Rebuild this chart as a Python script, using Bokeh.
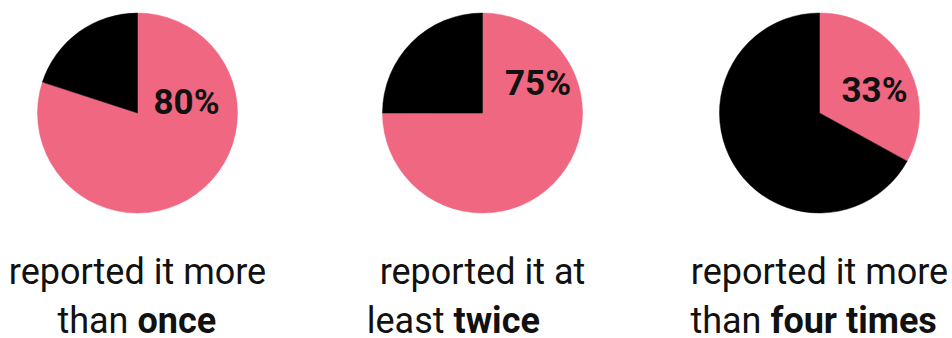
import math
from bokeh.plotting import figure
from bokeh.models import Range1d, ColumnDataSource, Label
from bokeh.embed import file_html
from bokeh.resources import INLINE

# ---- data ----
shares = [80, 75, 33]
share_labels = ["80%", "75%", "33%"]
line1 = ["reported it more", "reported it at", "reported it more"]
line2_plain = ["than", "least", "than"]
line2_bold = ["once", "twice", "four times"]

# ---- layout (styling, not data) ----
W, H = 952, 338
centers_x = [137, 482, 819]
center_y = 225.5
radius = 100
label_dx = [49, 55.5, 55]
label_dy = [10.5, 30, 23]
split_dx = [0, -29, -49]     # where the bold word starts, relative to centre
line1_y = 67
line2_y = 18
PINK = "#EF6781"
INK = "#111111"
FONT = "Roboto"

p = figure(width=W, height=H, output_backend="svg", toolbar_location=None,
           x_range=Range1d(0, W), y_range=Range1d(0, H), min_border=0,
           x_axis_location=None, y_axis_location=None)
p.grid.visible = False
p.outline_line_color = None
p.background_fill_color = "white"
p.border_fill_color = "white"

start = math.pi / 2
pink_end = [start - 2 * math.pi * s / 100 for s in shares]

src_pink = ColumnDataSource(dict(x=centers_x, y=[center_y] * 3,
                                 s=[start] * 3, e=pink_end))
src_black = ColumnDataSource(dict(x=centers_x, y=[center_y] * 3,
                                  s=pink_end, e=[start - 2 * math.pi] * 3))
p.wedge(x="x", y="y", radius=radius, start_angle="s", end_angle="e",
        direction="clock", fill_color=PINK, line_color=PINK, line_width=0.5,
        source=src_pink)
p.wedge(x="x", y="y", radius=radius, start_angle="s", end_angle="e",
        direction="clock", fill_color="black", line_color="black", line_width=0.5,
        source=src_black)

def add_label(x, y, text, size, bold=False, align="center", baseline="alphabetic"):
    p.add_layout(Label(x=x, y=y, text=text, text_font=FONT,
                       text_font_style="bold" if bold else "normal",
                       text_font_size=size, text_color=INK,
                       text_align=align, text_baseline=baseline))

for i in range(3):
    cx = centers_x[i]
    # percentage label
    add_label(cx + label_dx[i], center_y + label_dy[i], share_labels[i], "35px",
              bold=True, baseline="middle")
    # captions
    add_label(cx, line1_y, line1[i], "36px")
    split = cx + split_dx[i]
    add_label(split - 9, line2_y, line2_plain[i], "36px", align="right")
    add_label(split, line2_y, line2_bold[i], "36px", bold=True, align="left")

open("out.html", "w").write(file_html(p, INLINE))
